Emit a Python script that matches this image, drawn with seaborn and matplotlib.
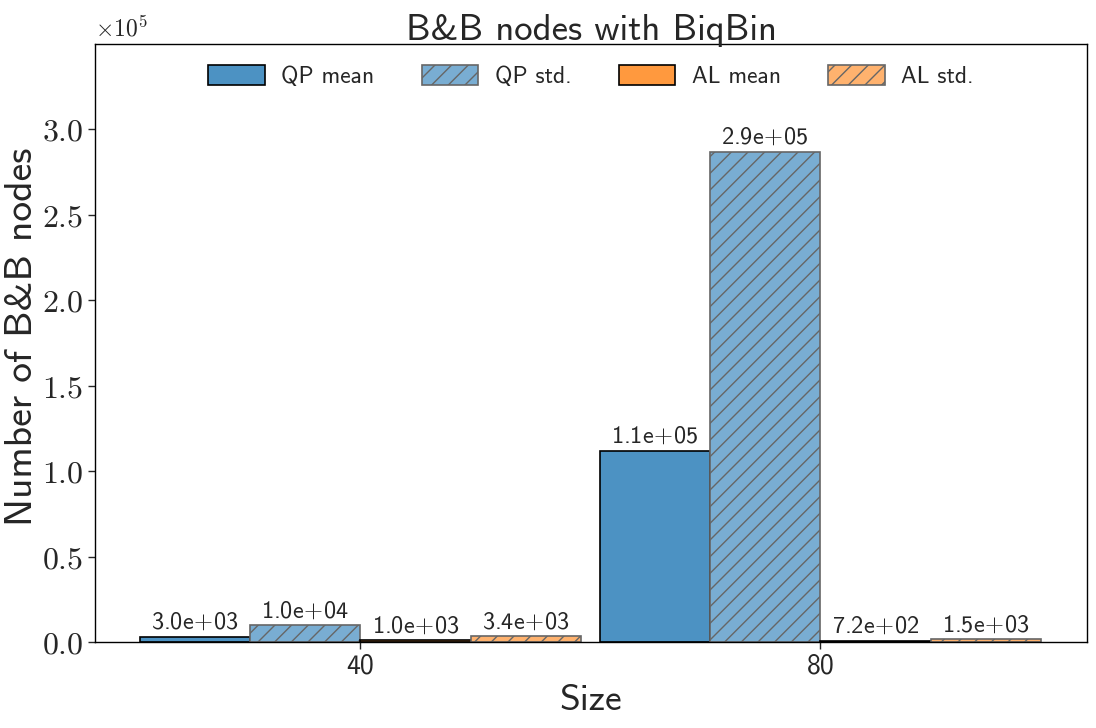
import matplotlib
matplotlib.use("Agg")
import matplotlib.pyplot as plt
import seaborn as sns
import pandas as pd
from matplotlib.ticker import FuncFormatter

sizes = ["40", "80"]
series = ["QP mean", "QP std.", "AL mean", "AL std."]
qp_mean = [3.0e3, 1.12e5]
qp_std = [1.0e4, 2.87e5]
al_mean = [1.0e3, 7.2e2]
al_std = [3.4e3, 1.5e3]
colors = ["#4c92c3", "#79add2", "#ff993e", "#ffb26e"]
edges = ["black", "#666666", "black", "#666666"]
hatches = ["", "//", "", "//"]

sns.set_style("white")
plt.rcParams["mathtext.fontset"] = "cm"
plt.rcParams["font.family"] = ["cmss10", "DejaVu Sans"]
plt.rcParams["axes.unicode_minus"] = False

rows = []
for s, vals in zip(series, [qp_mean, qp_std, al_mean, al_std]):
    for sz, v in zip(sizes, vals):
        rows.append({"Size": sz, "value": v, "series": s})
df = pd.DataFrame(rows)

fig = plt.figure(figsize=(10.96, 7.28), dpi=100)
ax = fig.add_axes([95/1096, 1 - 642/728, (1087-95)/1096, (642-44)/728])

sns.barplot(data=df, x="Size", y="value", hue="series", order=sizes, hue_order=series,
            palette=colors, width=0.96, saturation=1, ax=ax, legend=True)

def lab(v):
    m, e = f"{v:.1e}".split("e")
    return r"$\mathregular{" + m + r"e}\!+\!\mathregular{" + e.lstrip("+") + "}$"

for cont, ec, h in zip(ax.containers, edges, hatches):
    for bar in cont:
        bar.set_edgecolor(ec)
        bar.set_linewidth(1.2)
        bar.set_hatch(h)
    ax.bar_label(cont, labels=[lab(b.get_height()) for b in cont], padding=2, fontsize=17.5)

ax.set_ylim(0, 3.5e5)
ax.set_xlim(-0.577, 1.58)
ax.set_yticks([0, 0.5e5, 1e5, 1.5e5, 2e5, 2.5e5, 3e5])
ax.yaxis.set_major_formatter(FuncFormatter(lambda v, p: r"$%.1f$" % (v / 1e5)))
ax.tick_params(axis="y", labelsize=23, left=True, length=5, width=1)
ax.tick_params(axis="x", labelsize=20, bottom=True, length=5, width=1)
ax.set_xticks([0, 1])
ax.set_xticklabels(sizes, fontsize=20)
ax.text(0.0, 1.005, r"$\times10^{5}$", transform=ax.transAxes, fontsize=17, va="bottom", ha="left")
ax.set_xlabel("Size", fontsize=27, labelpad=4)
ax.set_ylabel("Number of B&B nodes", fontsize=28.5)
ax.yaxis.set_label_coords(-0.055, 0.51)
ax.set_title("B&B nodes with BiqBin", fontsize=26.5, pad=3)
for sp in ax.spines.values():
    sp.set_color("black")
    sp.set_linewidth(1)

handles = ax.legend_.legend_handles
for hd, ec, h in zip(handles, edges, hatches):
    hd.set_edgecolor(ec)
    hd.set_hatch(h)
    hd.set_linewidth(1.2)
ax.legend(handles=handles, labels=series, loc="upper center", ncol=4,
          frameon=False, fontsize=17, handlelength=2.4, handleheight=0.9,
          handletextpad=0.7, columnspacing=2.0, bbox_to_anchor=(0.5, 1.0))

fig.savefig("out.png", dpi=100)
